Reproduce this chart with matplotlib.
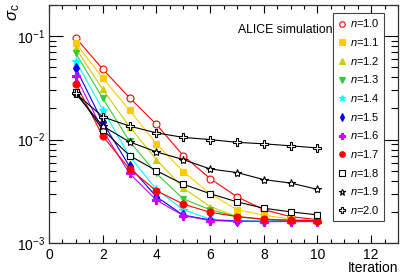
import matplotlib
matplotlib.use("Agg")
import matplotlib.pyplot as plt
import numpy as np
from matplotlib.ticker import LogLocator, FixedLocator, NullFormatter, FuncFormatter, MultipleLocator

plt.rcParams['font.family'] = ['Liberation Sans', 'DejaVu Sans']
plt.rcParams['mathtext.fontset'] = 'custom'
plt.rcParams['mathtext.rm'] = 'Liberation Sans'
plt.rcParams['mathtext.it'] = 'Liberation Sans:italic'
plt.rcParams['mathtext.bf'] = 'Liberation Sans:bold'

iterations = [1, 2, 3, 4, 5, 6, 7, 8, 9, 10]
labels = ["1.0", "1.1", "1.2", "1.3", "1.4", "1.5", "1.6", "1.7", "1.8", "1.9", "2.0"]

s_n10 = [0.096, 0.048, 0.0254, 0.0140, 0.0070, 0.0042, 0.0028, 0.0021, 0.0018, 0.00168]
s_n11 = [0.085, 0.0394, 0.0192, 0.0091, 0.0049, 0.0030, 0.0021, 0.00186, 0.0017, 0.00165]
s_n12 = [0.076, 0.0306, 0.0133, 0.0064, 0.0034, 0.00225, 0.0018, 0.0017, 0.00165, 0.00163]
s_n13 = [0.068, 0.0251, 0.0096, 0.0047, 0.00267, 0.0021, 0.0018, 0.00168, 0.00164, 0.00162]
s_n14 = [0.0575, 0.0195, 0.0069, 0.0033, 0.0021, 0.0017, 0.00164, 0.00162, 0.00162, 0.00162]
s_n15 = [0.049, 0.0147, 0.0055, 0.0028, 0.00186, 0.00167, 0.00163, 0.00162, 0.00162, 0.00162]
s_n16 = [0.041, 0.0123, 0.0047, 0.0026, 0.00184, 0.00165, 0.00162, 0.00161, 0.00161, 0.00161]
s_n17 = [0.0347, 0.0108, 0.0052, 0.0032, 0.00238, 0.00198, 0.0018, 0.0017, 0.00166, 0.00164]
s_n18 = [0.029, 0.0125, 0.0070, 0.0050, 0.0037, 0.0030, 0.0025, 0.00217, 0.0020, 0.00187]
s_n19 = [0.0278, 0.0135, 0.0095, 0.0076, 0.0064, 0.0052, 0.0048, 0.0041, 0.0038, 0.0033]
s_n20 = [0.028, 0.0166, 0.0135, 0.0116, 0.0105, 0.0100, 0.0094, 0.0091, 0.0087, 0.0083]

series = [s_n10, s_n11, s_n12, s_n13, s_n14, s_n15, s_n16, s_n17, s_n18, s_n19, s_n20]
colors = ['#ff0000', '#ffcc00', '#cccc00', '#33cc33', '#00ffff', '#0000ff',
          '#cc00ff', '#ff0000', '#000000', '#000000', '#000000']
markers = ['o', 's', '^', 'v', '*', 'd', 'P', 'o', 's', '*', 'P']
filled = [False, True, True, True, True, True, True, True, False, False, False]
msizes = [5, 5, 5, 5, 6, 5, 5.5, 5, 5, 6, 5.5]

fig = plt.figure(figsize=(4.07, 2.77), dpi=100)
ax = fig.add_axes([49/407, 1-243/277, (398-49)/407, (243-5)/277])

handles = []
for i, (ys, c, m, f, ms) in enumerate(zip(series, colors, markers, filled, msizes)):
    h, = ax.plot(iterations, ys, color=c, lw=0.8, marker=m, markersize=ms,
                 markerfacecolor=c if f else 'white', markeredgecolor=c,
                 markeredgewidth=0.8, label=r'$n$=' + labels[i], zorder=3 + i)
    handles.append(h)

ax.set_yscale('log')
ax.set_xlim(0, 13)
ax.set_ylim(1e-3, 0.2)

ax.xaxis.set_major_locator(FixedLocator([0, 2, 4, 6, 8, 10, 12]))
ax.xaxis.set_minor_locator(MultipleLocator(0.5))
ax.yaxis.set_major_locator(LogLocator(base=10, numticks=10))
ax.yaxis.set_minor_locator(LogLocator(base=10, subs=np.arange(2, 10), numticks=10))
ax.yaxis.set_minor_formatter(NullFormatter())
ax.yaxis.set_major_formatter(FuncFormatter(lambda v, p: r'$10^{%d}$' % int(round(np.log10(v)))))

ax.tick_params(axis='both', which='both', direction='in', top=True, right=True,
               labelsize=10, colors='black')
ax.tick_params(axis='x', which='major', length=6, width=0.8)
ax.tick_params(axis='x', which='minor', length=3, width=0.8)
ax.tick_params(axis='y', which='major', length=10, width=0.8, pad=3)
ax.tick_params(axis='y', which='minor', length=5, width=0.8)
for sp in ax.spines.values():
    sp.set_linewidth(0.9)
    sp.set_color('#333333')

ax.text((285-49)/349, 1-(30-5)/238, 'ALICE simulation', transform=ax.transAxes, fontsize=8.8,
        ha='center', va='center')

fig.text(398/407, 1-268/277, 'Iteration', ha='right', va='center', fontsize=10)
fig.text(14/407, 1-3/277, r'$\sigma_{\rm c}$', rotation=90, ha='center', va='top', fontsize=12)

leg = ax.legend(handles=handles, loc='upper left', bbox_to_anchor=(333/407, 1-13/277),
                bbox_transform=fig.transFigure, fontsize=8, frameon=True,
                fancybox=False, edgecolor='#444444', framealpha=1, borderpad=0.4,
                labelspacing=0.6, handlelength=0.8, handletextpad=0.3,
                borderaxespad=0, markerscale=0.8)
leg.get_frame().set_linewidth(0.8)
for h in leg.legend_handles:
    h.set_linestyle('none')
leg.set_zorder(30)

fig.savefig('out.png', dpi=100)
